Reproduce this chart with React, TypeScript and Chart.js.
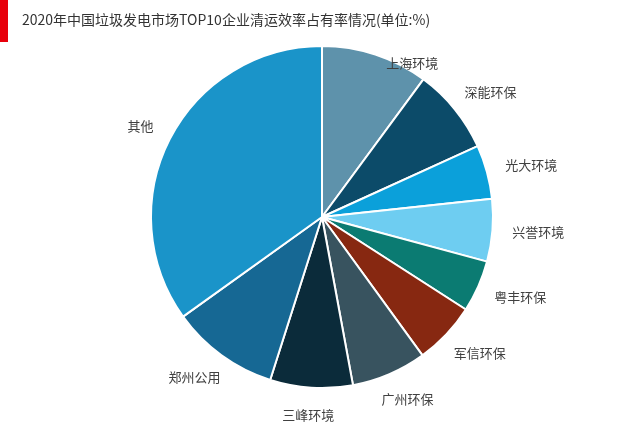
import { useEffect, useRef } from "react";
import { Chart, registerables, type Plugin } from "chart.js";

Chart.register(...registerables);

const TITLE = "2020年中国垃圾发电市场TOP10企业清运效率占有率情况(单位:%)";

const companies = [
  "上海环境",
  "深能环保",
  "光大环境",
  "兴誉环境",
  "粤丰环保",
  "军信环保",
  "广州环保",
  "三峰环境",
  "郑州公用",
  "其他",
];

const shares = [10.1, 8.1, 5.1, 5.9, 4.9, 5.9, 7.1, 7.8, 10.2, 34.9];

const sliceColors = [
  "#5e92ab",
  "#0c4b69",
  "#0ba0da",
  "#6ecdf1",
  "#0b7b72",
  "#872811",
  "#38535f",
  "#0b2b3a",
  "#166894",
  "#1a94c9",
];

const FONT = "'Noto Sans CJK SC', 'Microsoft YaHei', sans-serif";
const TITLE_ZONE = 55;

// red marker + heading in the top-left corner
const headerPlugin: Plugin<"pie"> = {
  id: "header",
  beforeDraw(chart) {
    const ctx = chart.ctx;
    ctx.save();
    ctx.fillStyle = "#ffffff";
    ctx.fillRect(0, 0, chart.width, chart.height);
    ctx.fillStyle = "#e8000b";
    ctx.fillRect(0, 0, 8, 42);
    ctx.fillStyle = "#333333";
    ctx.font = `14px ${FONT}`;
    ctx.textBaseline = "middle";
    ctx.textAlign = "left";
    ctx.fillText(TITLE, 22, 20);
    ctx.restore();
  },
};

// category names just outside each slice
const outsideLabels: Plugin<"pie"> = {
  id: "outsideLabels",
  afterDatasetsDraw(chart) {
    const ctx = chart.ctx;
    const meta = chart.getDatasetMeta(0);
    ctx.save();
    ctx.font = `13px ${FONT}`;
    ctx.fillStyle = "#404040";
    ctx.textAlign = "center";
    ctx.textBaseline = "middle";
    meta.data.forEach((el, i) => {
      const { x, y, startAngle, endAngle, outerRadius } = el.getProps(
        ["x", "y", "startAngle", "endAngle", "outerRadius"],
        true
      ) as any;
      const mid = (startAngle + endAngle) / 2;
      const dx = Math.cos(mid);
      const dy = Math.sin(mid);
      const text = companies[i];
      const w = ctx.measureText(text).width;
      const h = 14;
      const r = outerRadius + 20;
      let lx = x + dx * r + (dx * w) / 2;
      let ly = y + dy * r + (dy * h) / 2;
      // keep clear of the heading: drop it down and slide it to the rim
      if (ly - h / 2 < TITLE_ZONE) {
        ly = TITLE_ZONE + h / 2 + 1;
        const rim = Math.sqrt(Math.max(0, outerRadius ** 2 - (y - ly) ** 2));
        lx = x + Math.sign(dx) * (rim - 10 + w / 2);
      }
      ctx.fillText(text, lx, ly);
    });
    ctx.restore();
  },
};

export default function App() {
  const canvasRef = useRef<HTMLCanvasElement>(null);

  useEffect(() => {
    document.body.style.margin = "0";
    const canvas = canvasRef.current;
    if (!canvas) return;

    const chart = new Chart(canvas, {
      type: "pie",
      data: {
        labels: companies,
        datasets: [
          {
            data: shares,
            backgroundColor: sliceColors,
            borderColor: "#ffffff",
            borderWidth: 2,
          },
        ],
      },
      options: {
        responsive: false,
        animation: false,
        layout: { padding: { top: 45, bottom: 35, left: 4, right: 0 } },
        plugins: {
          legend: { display: false },
          tooltip: { enabled: false },
          title: { display: false },
        },
      },
      plugins: [headerPlugin, outsideLabels],
    });

    return () => chart.destroy();
  }, []);

  return (
    <div style={{ width: 640, height: 424 }}>
      <canvas ref={canvasRef} width={640} height={424} />
    </div>
  );
}
